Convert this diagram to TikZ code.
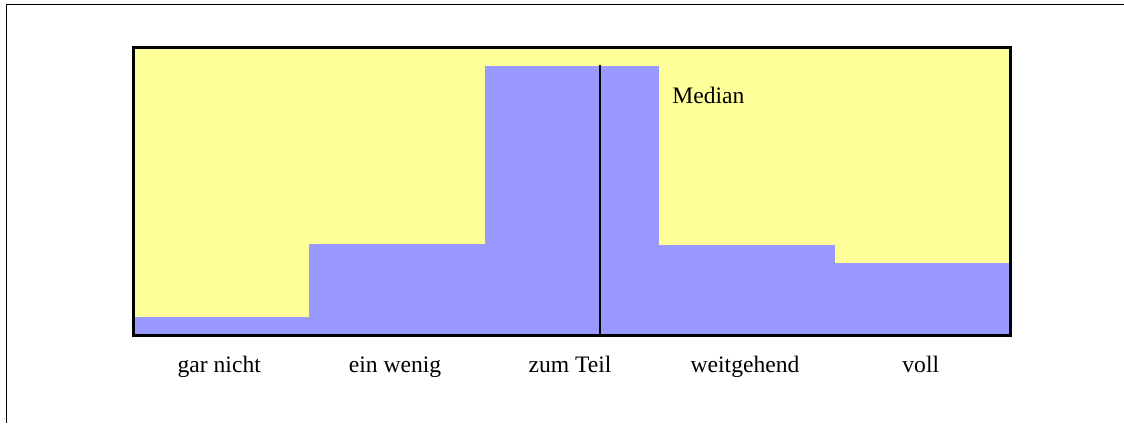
\documentclass[tikz,border=0pt]{standalone}
\usepackage{fontspec}
\setmainfont{Liberation Serif}
\definecolor{chartyellow}{HTML}{FFFF99}
\definecolor{barblue}{HTML}{9999FF}

\begin{document}
\begin{tikzpicture}[x=0.5pt,y=-0.5pt,font=\fontsize{11.8}{14}\selectfont]
      \useasboundingbox (0,0) rectangle (1124,423);
      \draw[line width=0.75pt] (6.5,423) -- (6.5,4.5) -- (1124,4.5);

      \fill[chartyellow] (133.5,47.5) rectangle (1010.5,335.5);
      \foreach \xa/\xb/\top/\lab [count=\i] in {133.5/309/317/gar nicht, 309/485/244/ein wenig, 485/659/66/zum Teil, 659/835/244.5/weitgehend, 835/1010.5/263/voll}
      {
        \fill[barblue] (\xa,\top) rectangle (\xb,335.5);
        \node[anchor=base] (cat\i) at ({(\xa+\xb)/2-2},372) {\lab};
      }

      \draw[line width=1pt] (599.7,65) -- (599.7,335.5);
      \node[anchor=base west,inner sep=0pt] (median) at (672,103.5) {Median};

      \draw[line width=1.5pt] (133.5,47.5) rectangle (1010.5,335.5);
\end{tikzpicture}
\end{document}
